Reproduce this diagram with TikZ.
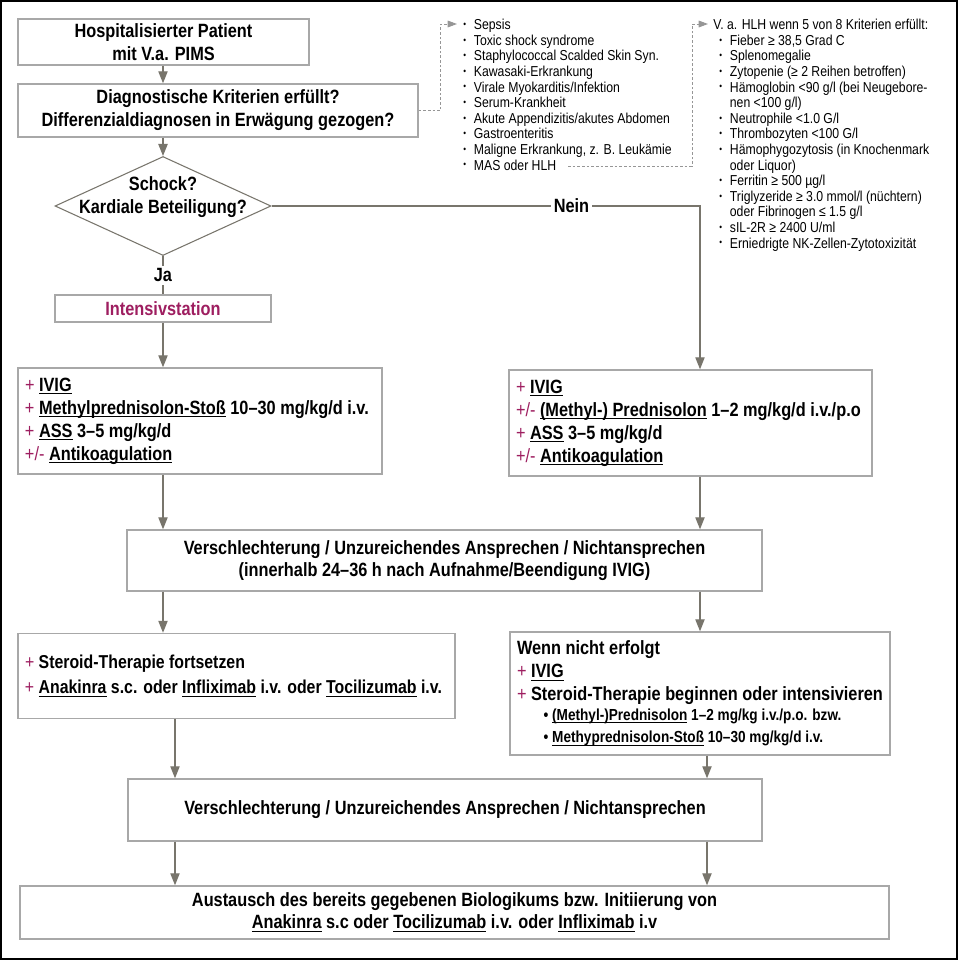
\documentclass[tikz,border=0pt]{standalone}
\usepackage{fontspec}
\setmainfont{Liberation Sans}[FakeStretch=0.85]
\usepackage{xcolor}
\usetikzlibrary{shapes.geometric,
	arrows.meta,
	calc,
	positioning}
\definecolor{mag}{RGB}{158,30,96}
\definecolor{boxgray}{RGB}{168,168,168}
\definecolor{linegray}{RGB}{120,117,108}
\definecolor{dashgray}{RGB}{150,150,150}
\tikzstyle{box}=[draw=boxgray, line width=1.1pt, fill=white, inner sep=0, align=center,
		font=\bfseries\fontsize{14.4}{17.25}\selectfont]
\tikzstyle{lbox}=[box, align=flush left, inner xsep=5.25pt]
\tikzstyle{decision}=[draw=linegray, line width=0.8pt, diamond, inner sep=0]
\tikzstyle{arr}=[draw=linegray, line width=0.9pt, -{Triangle[length=9pt,width=7pt]}]
\tikzstyle{conn}=[draw=linegray, line width=0.9pt]
\tikzstyle{dasharr}=[draw=dashgray, line width=0.7pt, dashed, dash pattern=on 2pt off 1.5pt,
		-{Triangle[length=7pt,width=5pt]}]
\tikzstyle{lbl}=[fill=white, inner sep=2pt, font=\bfseries\fontsize{14.4}{17}\selectfont]
\tikzstyle{listtxt}=[align=flush left, anchor=north west, inner sep=0,
		font=\fontsize{10.8}{11.7}\selectfont]
\newcommand\pl{\textcolor{mag}{\mdseries+}\ }
\newcommand\plm{\textcolor{mag}{\mdseries+/-}\ }
\newcommand\udl[1]{\setbox0\hbox{#1}\rlap{\rule[-2.4pt]{\wd0}{0.8pt}}\box0\relax}
\newcommand\itm{\makebox[8pt][l]{\raisebox{1.6pt}{\scriptsize\textbullet}}}

\begin{document}
\begin{tikzpicture}[x=0.75pt, y=-0.75pt]
	\useasboundingbox (0,0) rectangle (958,960);
	\draw[line width=1.5pt] (1,1) rectangle (957,959);

	% main column
	\node[box, minimum width=218.25pt, minimum height=34.5pt] (start) at (163.5,42)
		{Hospitalisierter Patient\\mit V.a. PIMS};
	\node[box, minimum width=300pt, minimum height=39.75pt] (crit) at (218,110.5)
		{Diagnostische Kriterien erfüllt?\\Differenzialdiagnosen in Erwägung gezogen?};
	\node[decision, minimum width=162pt, minimum height=74.25pt] (shock) at (163,206) {};
	\node[align=center, inner sep=0, font=\bfseries\fontsize{14.4}{17}\selectfont] (shocktxt)
		at (163,197) {Schock?\\Kardiale Beteiligung?};
	\node[box, minimum width=162pt, minimum height=20.25pt, text=mag] (icu) at (163,308.5)
		{Intensivstation};
	\node[lbox, text width=262.5pt, minimum height=79.5pt] (left1) at (200,421)
		{\pl\udl{IVIG}\\
		\pl\udl{Methylprednisolon-Stoß} 10–30 mg/kg/d i.v.\\
		\pl\udl{ASS} 3–5 mg/kg/d\\
		\plm\udl{Antikoagulation}};
	\node[lbox, text width=261.75pt, minimum height=79.5pt] (right1) at (690.5,423)
		{\pl\udl{IVIG}\\
		\plm\udl{(Methyl-) Prednisolon} 1–2 mg/kg/d i.v./p.o\\
		\pl\udl{ASS} 3–5 mg/kg/d\\
		\plm\udl{Antikoagulation}};
	\node[box, minimum width=476.25pt, minimum height=45.75pt,
		font=\bfseries\fontsize{14.4}{16}\selectfont] (worse1) at (444.5,560.5)
		{Verschlechterung / Unzureichendes Ansprechen / Nichtansprechen\\
		(innerhalb 24–36 h nach Aufnahme/Beendigung IVIG)};
	\node[lbox, text width=317.25pt, minimum height=63.75pt,
		font=\bfseries\fontsize{14}{18.75}\selectfont] (left2) at (236.5,676)
		{\pl Steroid-Therapie fortsetzen\\
		\pl\udl{Anakinra} s.c. oder \udl{Infliximab} i.v. oder \udl{Tocilizumab} i.v.};
	\node[lbox, text width=274.5pt, minimum height=92.25pt,
		font=\bfseries\fontsize{14.4}{17}\selectfont] (right2) at (700,693.5)
		{Wenn nicht erfolgt\\
		\pl\udl{IVIG}\\
		\pl Steroid-Therapie beginnen oder intensivieren\\
		\fontsize{12}{15}\selectfont\hspace*{20pt}\textbullet\ \udl{(Methyl-)Prednisolon} 1–2 mg/kg i.v./p.o. bzw.\\
		\hspace*{20pt}\textbullet\ \udl{Methyprednisolon-Stoß} 10–30 mg/kg/d i.v.};
	\node[box, minimum width=475.5pt, minimum height=46.5pt] (worse2) at (445,810)
		{Verschlechterung / Unzureichendes Ansprechen / Nichtansprechen};
	\node[box, minimum width=651.75pt, minimum height=39.75pt,
		font=\bfseries\fontsize{14.4}{16.5}\selectfont] (final) at (454.5,912.5)
		{Austausch des bereits gegebenen Biologikums bzw. Initiierung von\\
		\udl{Anakinra} s.c oder \udl{Tocilizumab} i.v. oder \udl{Infliximab} i.v};

	% side lists
	\node[listtxt] (diff) at (463,19)
		{\itm Sepsis\\
		\itm Toxic shock syndrome\\
		\itm Staphylococcal Scalded Skin Syn.\\
		\itm Kawasaki-Erkrankung\\
		\itm Virale Myokarditis/Infektion\\
		\itm Serum-Krankheit\\
		\itm Akute Appendizitis/akutes Abdomen\\
		\itm Gastroenteritis\\
		\itm Maligne Erkrankung, z. B. Leukämie\\
		\itm MAS oder HLH};
	\node[listtxt] (hlh) at (713,19)
		{V. a. HLH wenn 5 von 8 Kriterien erfüllt:\\
		\hspace*{4.5pt}\itm Fieber ≥ 38,5 Grad C\\
		\hspace*{4.5pt}\itm Splenomegalie\\
		\hspace*{4.5pt}\itm Zytopenie (≥ 2 Reihen betroffen)\\
		\hspace*{4.5pt}\itm Hämoglobin <90 g/l (bei Neugebore-\\
		\hspace*{12.5pt}nen <100 g/l)\\
		\hspace*{4.5pt}\itm Neutrophile <1.0 G/l\\
		\hspace*{4.5pt}\itm Thrombozyten <100 G/l\\
		\hspace*{4.5pt}\itm Hämophygozytosis (in Knochenmark\\
		\hspace*{12.5pt}oder Liquor)\\
		\hspace*{4.5pt}\itm Ferritin ≥ 500 µg/l\\
		\hspace*{4.5pt}\itm Triglyzeride ≥ 3.0 mmol/l (nüchtern)\\
		\hspace*{12.5pt}oder Fibrinogen ≤ 1.5 g/l\\
		\hspace*{4.5pt}\itm sIL-2R ≥ 2400 U/ml\\
		\hspace*{4.5pt}\itm Erniedrigte NK-Zellen-Zytotoxizität};

	\coordinate (d1) at (457,24);
	\coordinate (d2s) at (568,166);
	\coordinate (h1) at (708,24);
	\coordinate (nein) at (700,206);
	\coordinate (ls) at (175,0);
	\coordinate (rs) at (707,0);

	% connectors
	\draw[arr] (start.south -| shock.north) -- (crit.north -| shock.north);
	\draw[arr] (crit.south -| shock.north) -- (shock.north);
	\draw[conn] (shock.south) -- node[lbl]{Ja} (icu.north);
	\draw[arr] (icu.south) -- (icu.south |- left1.north);
	\draw[arr] (shock.east) -- node[lbl, pos=0.7]{Nein} (nein) -- (nein |- right1.north);
	\draw[arr] (icu.south |- left1.south) -- (icu.south |- worse1.north);
	\draw[arr] (nein |- right1.south) -- (nein |- worse1.north);
	\draw[arr] (icu.south |- worse1.south) -- (icu.south |- left2.north);
	\draw[arr] (nein |- worse1.south) -- (nein |- right2.north);
	\draw[arr] (ls |- left2.south) -- (ls |- worse2.north);
	\draw[arr] (rs |- right2.south) -- (rs |- worse2.north);
	\draw[arr] (ls |- worse2.south) -- (ls |- final.north);
	\draw[arr] (rs |- worse2.south) -- (rs |- final.north);
	\draw[dasharr] (crit.east) -- ++(22,0) |- (d1);
	\draw[dasharr] (d2s) -- ++(124,0) |- (h1);
\end{tikzpicture}
\end{document}
